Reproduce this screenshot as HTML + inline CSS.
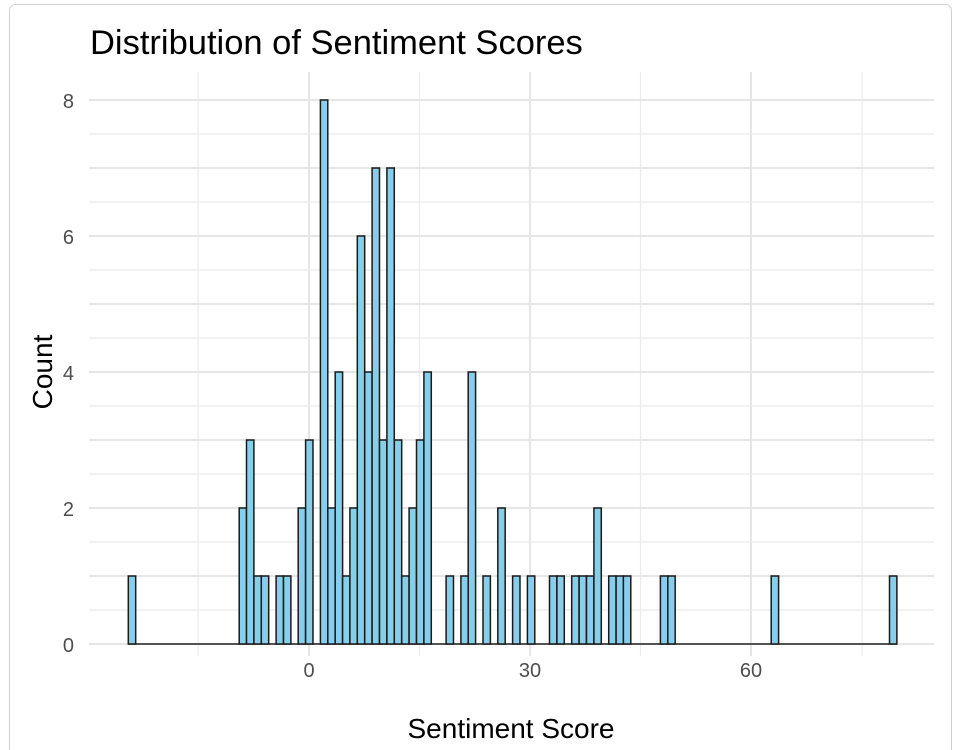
<!DOCTYPE html>
<html><head><meta charset="utf-8"><style>
html,body{margin:0;padding:0;background:#fff;}
svg{display:block;font-family:"Liberation Sans",Arial,sans-serif;}
</style></head><body>
<svg width="958" height="750" viewBox="0 0 958 750" xmlns="http://www.w3.org/2000/svg">
<rect x="9.5" y="4.5" width="942" height="760" rx="6" fill="#fff" stroke="#d0d0d0"/>
<text x="90" y="54" font-size="34.5" fill="#000">Distribution of Sentiment Scores</text>
<g stroke="#ebebeb" stroke-width="1.2">
<line x1="89" x2="934" y1="610" y2="610"/><line x1="89" x2="934" y1="542" y2="542"/><line x1="89" x2="934" y1="474" y2="474"/><line x1="89" x2="934" y1="406" y2="406"/><line x1="89" x2="934" y1="338" y2="338"/><line x1="89" x2="934" y1="270" y2="270"/><line x1="89" x2="934" y1="202" y2="202"/><line x1="89" x2="934" y1="134" y2="134"/>
<line x1="198" x2="198" y1="72" y2="656"/><line x1="419.5" x2="419.5" y1="72" y2="656"/><line x1="640.5" x2="640.5" y1="72" y2="656"/><line x1="862" x2="862" y1="72" y2="656"/>
</g>
<g stroke="#e6e6e6" stroke-width="2">
<line x1="89" x2="934" y1="644" y2="644"/><line x1="89" x2="934" y1="576" y2="576"/><line x1="89" x2="934" y1="508" y2="508"/><line x1="89" x2="934" y1="440" y2="440"/><line x1="89" x2="934" y1="372" y2="372"/><line x1="89" x2="934" y1="304" y2="304"/><line x1="89" x2="934" y1="236" y2="236"/><line x1="89" x2="934" y1="168" y2="168"/><line x1="89" x2="934" y1="100" y2="100"/>
<line x1="309" x2="309" y1="72" y2="656"/><line x1="530" x2="530" y1="72" y2="656"/><line x1="751" x2="751" y1="72" y2="656"/>
</g>
<line x1="128.3" x2="897" y1="644" y2="644" stroke="#222" stroke-width="1.5"/>
<g fill="#87ceeb" stroke="#1a1a1a" stroke-width="1.5">
<rect x="128.3" y="576" width="7.39" height="68"/>
<rect x="239.2" y="508" width="7.39" height="136"/>
<rect x="246.5" y="440" width="7.39" height="204"/>
<rect x="253.9" y="576" width="7.39" height="68"/>
<rect x="261.3" y="576" width="7.39" height="68"/>
<rect x="276.1" y="576" width="7.39" height="68"/>
<rect x="283.5" y="576" width="7.39" height="68"/>
<rect x="298.2" y="508" width="7.39" height="136"/>
<rect x="305.6" y="440" width="7.39" height="204"/>
<rect x="320.4" y="100" width="7.39" height="544"/>
<rect x="327.8" y="508" width="7.39" height="136"/>
<rect x="335.2" y="372" width="7.39" height="272"/>
<rect x="342.6" y="576" width="7.39" height="68"/>
<rect x="349.9" y="508" width="7.39" height="136"/>
<rect x="357.3" y="236" width="7.39" height="408"/>
<rect x="364.7" y="372" width="7.39" height="272"/>
<rect x="372.1" y="168" width="7.39" height="476"/>
<rect x="379.5" y="440" width="7.39" height="204"/>
<rect x="386.9" y="168" width="7.39" height="476"/>
<rect x="394.3" y="440" width="7.39" height="204"/>
<rect x="401.7" y="576" width="7.39" height="68"/>
<rect x="409.1" y="508" width="7.39" height="136"/>
<rect x="416.5" y="440" width="7.39" height="204"/>
<rect x="423.9" y="372" width="7.39" height="272"/>
<rect x="446.1" y="576" width="7.39" height="68"/>
<rect x="460.9" y="576" width="7.39" height="68"/>
<rect x="468.2" y="372" width="7.39" height="272"/>
<rect x="483.0" y="576" width="7.39" height="68"/>
<rect x="497.8" y="508" width="7.39" height="136"/>
<rect x="512.6" y="576" width="7.39" height="68"/>
<rect x="527.4" y="576" width="7.39" height="68"/>
<rect x="549.5" y="576" width="7.39" height="68"/>
<rect x="556.9" y="576" width="7.39" height="68"/>
<rect x="571.7" y="576" width="7.39" height="68"/>
<rect x="579.1" y="576" width="7.39" height="68"/>
<rect x="586.5" y="576" width="7.39" height="68"/>
<rect x="593.9" y="508" width="7.39" height="136"/>
<rect x="608.7" y="576" width="7.39" height="68"/>
<rect x="616.1" y="576" width="7.39" height="68"/>
<rect x="623.4" y="576" width="7.39" height="68"/>
<rect x="660.4" y="576" width="7.39" height="68"/>
<rect x="667.8" y="576" width="7.39" height="68"/>
<rect x="771.2" y="576" width="7.39" height="68"/>
<rect x="889.5" y="576" width="7.39" height="68"/>
</g>
<g font-size="20" fill="#4d4d4d" text-anchor="end">
<text x="74" y="652">0</text><text x="74" y="516">2</text><text x="74" y="380">4</text><text x="74" y="244">6</text><text x="74" y="108">8</text>
</g>
<g font-size="20" fill="#4d4d4d" text-anchor="middle">
<text x="309" y="677">0</text><text x="530" y="677">30</text><text x="751" y="677">60</text>
</g>
<text x="511" y="738" font-size="28" fill="#000" text-anchor="middle">Sentiment Score</text>
<text transform="translate(52,372) rotate(-90)" font-size="28" fill="#000" text-anchor="middle">Count</text>
</svg>
</body></html>
